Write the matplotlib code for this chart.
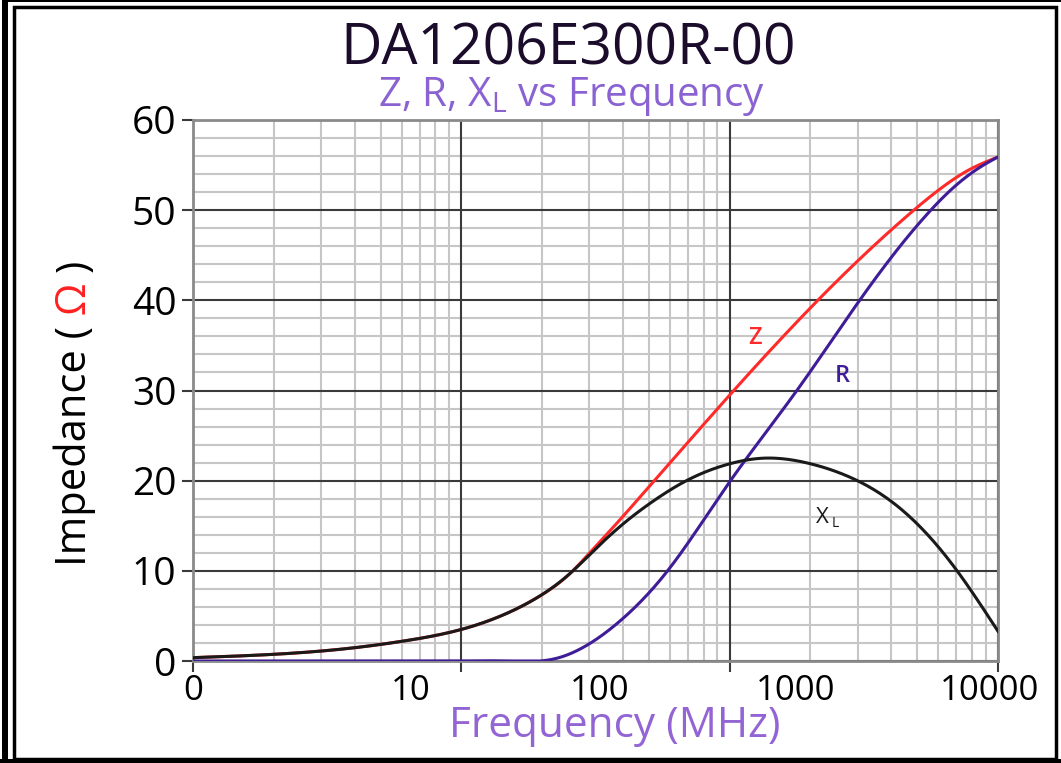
import numpy as np
import matplotlib.pyplot as plt
from matplotlib.ticker import LogLocator, MultipleLocator, NullFormatter
from matplotlib.patches import Rectangle

# values (frequency in MHz, impedance in ohm)
xl_freq = [10, 19.4, 39.4, 60.5, 100, 143, 191, 254, 301, 357, 424, 517,
           690, 980, 1350, 1985, 2800, 4045, 5236, 7000, 10000]
xl_vals = [0.37, 0.72, 1.45, 2.2, 3.5, 5.1, 7.0, 9.7, 11.8, 13.9, 15.8, 17.7,
           20.0, 21.8, 22.5, 21.9, 20.4, 17.6, 14.6, 10.1, 3.3]

r_freq = [10, 100, 150, 200, 233, 276, 389, 587, 980, 1780, 3050, 5460,
          6760, 9060, 10000]
r_vals = [0.0, 0.0, 0.0, 0.02, 0.4, 1.3, 4.4, 10.0, 19.5, 30.0, 40.0, 49.6,
          52.4, 55.2, 55.9]

z_freq = [10, 19.4, 39.4, 60.5, 100, 143, 191, 254, 301, 357, 517, 980,
          2130, 4600, 6050, 7830, 10000]
z_vals = [0.37, 0.72, 1.45, 2.2, 3.5, 5.1, 7.0, 9.7, 12.0, 14.4, 19.8, 29.2,
          40.0, 49.4, 52.3, 54.5, 55.9]

x_labels = ['0', '10', '100', '1000', '10000']
x_label_pos = [0.0, 0.27, 0.505, 0.748, 0.99]


def smooth(freq, vals, n=500):
    '''natural cubic spline through the read points, in log frequency'''
    x = np.log10(freq)
    y = np.asarray(vals, float)
    k = len(x)
    h = np.diff(x)
    A = np.zeros((k, k))
    b = np.zeros(k)
    A[0, 0] = A[-1, -1] = 1
    for i in range(1, k - 1):
        A[i, i - 1] = h[i - 1]
        A[i, i] = 2 * (h[i - 1] + h[i])
        A[i, i + 1] = h[i]
        b[i] = 6 * ((y[i + 1] - y[i]) / h[i] - (y[i] - y[i - 1]) / h[i - 1])
    M = np.linalg.solve(A, b)
    xs = np.linspace(x[0], x[-1], n)
    j = np.clip(np.searchsorted(x, xs) - 1, 0, k - 2)
    a = x[j + 1] - xs
    c = xs - x[j]
    hj = h[j]
    ys = (M[j] * a**3 / (6 * hj) + M[j + 1] * c**3 / (6 * hj)
          + (y[j] / hj - M[j] * hj / 6) * a
          + (y[j + 1] / hj - M[j + 1] * hj / 6) * c)
    return 10 ** xs, np.clip(ys, 0, None)


W, H = 1061, 763
fig = plt.figure(figsize=(W / 100, H / 100), dpi=100)
plt.rcParams['font.family'] = ['Open Sans', 'DejaVu Sans']

ax = fig.add_axes([193 / W, 1 - 661 / H, 805 / W, 541 / H])
ax.set_xscale('log')
ax.set_xlim(10, 10000)
ax.set_ylim(0, 60)

ax.xaxis.set_major_locator(LogLocator(base=10))
ax.xaxis.set_minor_locator(LogLocator(base=10, subs=np.arange(2, 10)))
ax.xaxis.set_major_formatter(NullFormatter())
ax.xaxis.set_minor_formatter(NullFormatter())
ax.yaxis.set_major_locator(MultipleLocator(10))
ax.yaxis.set_minor_locator(MultipleLocator(2))

ax.grid(which='minor', color='#c6c6c6', lw=1.5)
ax.set_axisbelow(True)
for v in ax.get_xticks():
    ax.axvline(v, color='#3a3a3a', lw=1.5, zorder=0.9)
for v in ax.get_yticks():
    ax.axhline(v, color='#3a3a3a', lw=1.5, zorder=0.9)
ax.set_xlim(10, 10000)
ax.set_ylim(0, 60)

ax.tick_params(which='minor', length=0)
ax.tick_params(which='major', length=8, width=1.5, color='#3a3a3a',
               direction='out', pad=4)
for s in ax.spines.values():
    s.set_color('#8a8a8a')
    s.set_linewidth(2)

ax.set_yticks(range(0, 61, 10))
ax.set_yticklabels([str(v) for v in range(0, 61, 10)], fontsize=28)

# tick labels of the original sit off the grid, evenly spread
for lab, p in zip(x_labels, x_label_pos):
    ax.text(p, -0.055, lab, transform=ax.transAxes, ha='center', va='center',
            fontsize=25)

ax.plot(*smooth(z_freq, z_vals), color='#ff2a2a', lw=2.2, zorder=2)
ax.plot(*smooth(r_freq, r_vals), color='#3f1c98', lw=2.2, zorder=3)
ax.plot(*smooth(xl_freq, xl_vals), color='#1a1a1a', lw=2.2, zorder=4)

ax.text(1240, 35.8, 'Z', color='#ff2a2a', fontsize=17, ha='center',
        va='center', weight='semibold')
ax.text(2630, 31.6, 'R', color='#3f1c98', fontsize=17, ha='center',
        va='center', weight='semibold')
ax.text(2220, 15.9, 'X', color='#1a1a1a', fontsize=16, ha='center', va='center')
ax.text(2480, 15.2, 'L', color='#1a1a1a', fontsize=10, ha='center', va='center')

fig.text(568 / W, 1 - 50 / H, 'DA1206E300R-00', ha='center', va='center',
         fontsize=41, color='#1c0c2c', weight='medium')
fig.text(572 / W, 1 - 97 / H, 'Z, R, X$_{\\mathregular{L}}$ vs Frequency',
         ha='center', va='center', fontsize=29, color='#8a62d2')
fig.text(615 / W, 1 - 726 / H, 'Frequency (MHz)', ha='center', va='center',
         fontsize=30.5, color='#9364d4')

# y label with a red omega
t1 = fig.text(75 / W, 1 - 566 / H, 'Impedance (', rotation=90, ha='center',
              va='bottom', fontsize=30, color='black')
a2 = ax.annotate(' \u03a9 ', xy=(0.5, 1), xycoords=t1, rotation=90,
                 ha='center', va='bottom', fontsize=30, color='#ff2020',
                 annotation_clip=False)
ax.annotate(')', xy=(0.5, 1), xycoords=a2, rotation=90, ha='center',
            va='bottom', fontsize=30, color='black', annotation_clip=False)

# frame around the picture
fig.add_artist(Rectangle((2 / W, 0), 6 / W, 1, transform=fig.transFigure,
                         color='black', lw=0))
fig.add_artist(Rectangle((8 / W, 1 - 2 / H), 1, 2 / H,
                         transform=fig.transFigure, color='black', lw=0))
fig.add_artist(Rectangle((14 / W, 4 / H), 1042 / W, 1 - 11 / H,
                         transform=fig.transFigure, fill=False,
                         edgecolor='black', lw=2.5))
fig.add_artist(Rectangle((0, 0), 1, 4 / H, transform=fig.transFigure,
                         color='black', lw=0))

fig.savefig('out.png', dpi=100)
